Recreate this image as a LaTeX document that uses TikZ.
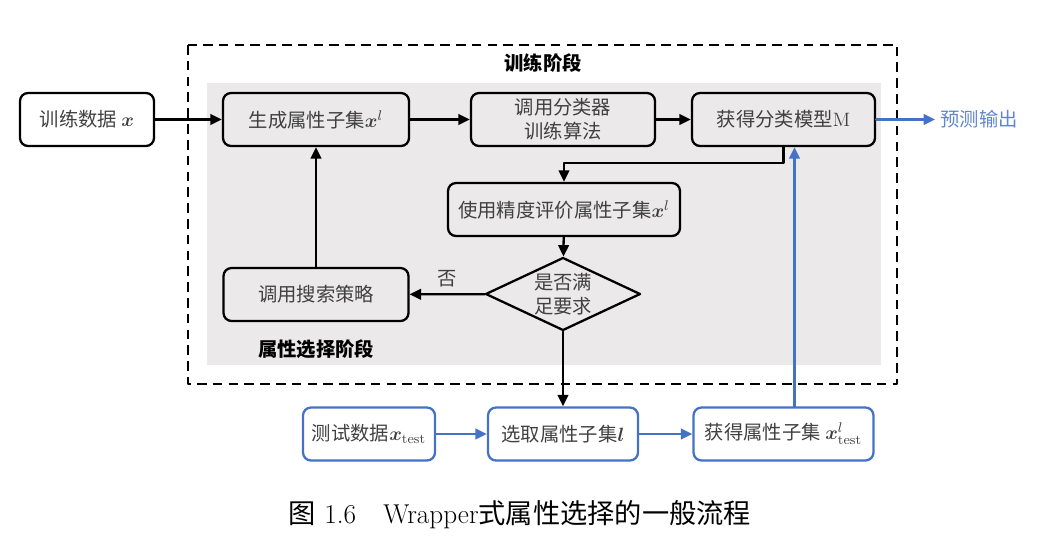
\documentclass[tikz,border=0pt]{standalone}
\usepackage{amsmath}
\usepackage{fontspec}
\newfontfamily\cjk{Noto Sans CJK SC}
\usepackage{pgf,tikz}
\usetikzlibrary{arrows.meta}
\usetikzlibrary{shapes.geometric}
\usepackage{xcolor}
\definecolor{bggray}{RGB}{235,233,234}
\definecolor{flowblue}{RGB}{68,114,196}
\definecolor{outblue}{RGB}{96,134,204}

\begin{document}
\begin{tikzpicture}[line cap=round,line join=round,>={Triangle[length=6.5pt,width=6pt]},x=0.02cm,y=-0.02cm,
  box/.style={draw,rounded corners=0.16cm,line width=1.3pt,minimum height=1.06cm,inner sep=2pt,align=center,text=black!75,font=\fontsize{11}{13.6}\selectfont\cjk},
  bluebox/.style={box,draw=flowblue},
  flow/.style={->,line width=1.3pt},
  blueflow/.style={->,line width=1.3pt,color=flowblue}]
\useasboundingbox (0,0) rectangle (1040,552);
\fill[bggray] (207,83) rectangle (881,365);
\draw[line width=1.1pt,dash pattern=on 5.5pt off 3.5pt,line cap=butt] (188,45) rectangle (897,384);
\draw (543,63) node[font=\fontsize{11}{13}\selectfont\cjk\bfseries] (train) {训练阶段};
\draw (316,349) node[font=\fontsize{11}{13}\selectfont\cjk\bfseries] (sel-stage) {属性选择阶段};
\node[box,minimum width=2.68cm] (data) at (87,119.5) {训练数据 $\boldsymbol{x}$};
\node[box,minimum width=3.72cm] (gen) at (316,119.5) {生成属性子集$\boldsymbol{x}^{l}$};
\node[box,minimum width=3.68cm] (clf) at (563,119.5) {调用分类器\\训练算法};
\node[box,minimum width=3.66cm] (model) at (783.5,119.5) {获得分类模型$\mathrm{M}$};
\node[box,minimum width=4.64cm] (eval) at (564,209.5) {使用精度评价属性子集$\boldsymbol{x}^{l}$};
\node[draw,diamond,aspect=2.1,line width=1.3pt,minimum width=3.1cm,minimum height=1.46cm,inner sep=-3pt,align=center,text=black!75,font=\fontsize{11}{13.6}\selectfont\cjk] (judge) at (563,294) {是否满\\足要求};
\node[box,minimum width=3.7cm] (search) at (316,294.5) {调用搜索策略};
\node[bluebox,minimum width=2.64cm] (test) at (369,434) {测试数据$\boldsymbol{x}_{\mathrm{test}}$};
\node[bluebox,minimum width=3.0cm] (sel) at (563,434) {选取属性子集$\boldsymbol{l}$};
\node[bluebox,minimum width=3.6cm] (getsub) at (783.5,434) {获得属性子集 $\boldsymbol{x}^{l}_{\mathrm{test}}$};
\node[anchor=west,text=outblue,font=\fontsize{11}{13}\selectfont\cjk,inner sep=0pt] (out) at (940,119.5) {预测输出};
\draw[flow] (data) -- (gen);
\draw[flow] (gen) -- (clf);
\draw[flow] (clf) -- (model);
\draw[flow] (model.south) -- ++(0,16) -| (eval.north);
\draw[flow] (eval) -- (judge);
\draw[flow] (judge) -- node[above,font=\fontsize{11}{13}\selectfont\cjk,text=black!75] (no) {否} (search);
\draw[flow] (search) -- (gen);
\draw[flow] (judge) -- (sel);
\draw[blueflow] (model) -- ([xshift=-0.1cm]out.west);
\draw[blueflow] (test) -- (sel);
\draw[blueflow] (sel) -- (getsub);
\draw[blueflow] ([xshift=0.22cm]getsub.north) -- ([xshift=0.22cm]model.south);
\draw (520,515) node[font=\fontsize{15.5}{18}\selectfont] (caption) {{\cjk 图} 1.6\quad Wrapper{\cjk 式属性选择的一般流程}};
\end{tikzpicture}
\end{document}
